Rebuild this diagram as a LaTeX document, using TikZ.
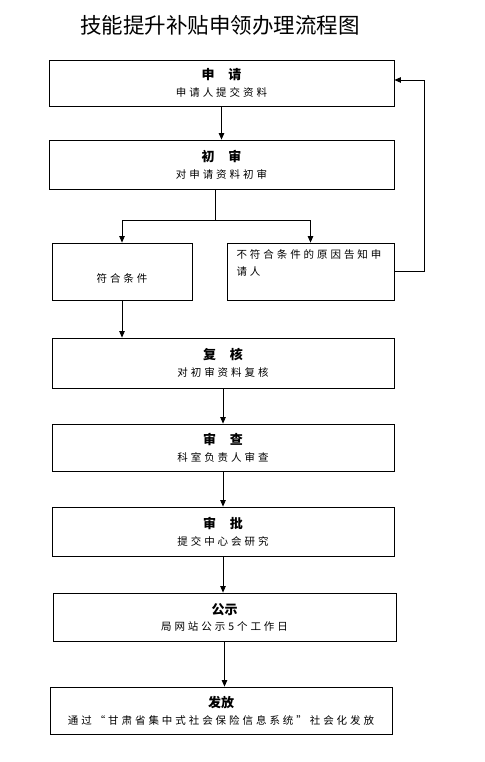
\documentclass[tikz,border=0pt]{standalone}
\usepackage{fontspec}
\setmainfont{Noto Sans CJK SC}
\newfontfamily\cjkwide[LetterSpace=28]{Noto Sans CJK SC}
\usetikzlibrary{arrows.meta}

\newcommand{\hd}[1]{{\rmfamily\bfseries\fontsize{13}{13}\selectfont #1}}

\begin{document}
\begin{tikzpicture}[
        x=1pt, y=-1pt,
        box/.style={rectangle, draw=black, line width=0.8pt, inner sep=0pt, align=center, font=\cjkwide\fontsize{10.5}{12}\selectfont},
        edge/.style={-{Triangle[length=6.5pt,width=5.5pt]}, line width=0.8pt},
        link/.style={line width=0.8pt}
    ]
    \useasboundingbox (0,0) rectangle (484,762);

    % Title
    \node[font=\fontsize{21.5}{24}\selectfont] (title) at (220,25) {技能提升补贴申领办理流程图};

    % Steps
    \node[box, minimum width=345pt, minimum height=46pt] (apply) at (221.5,83) {\hd{申\hspace{14pt}请}\\[5pt]申请人提交资料};
    \node[box, minimum width=345pt, minimum height=49pt] (first) at (221.5,164.5) {\hd{初\hspace{14pt}审}\\[5pt]对申请资料初审};
    \node[box, minimum width=140pt, minimum height=57pt, text height=21pt, text depth=0pt] (ok) at (122,271.5) {符合条件};
    \node[box, minimum width=167pt, minimum height=57pt] (notok) at (310.5,271.5) {\parbox[c][43pt][t]{148pt}{\fontsize{10.5}{17}\selectfont 不符合条件的原因告知申\\请人}};
    \node[box, minimum width=342pt, minimum height=50pt] (review) at (223,363) {\hd{复\hspace{14pt}核}\\[5pt]对初审资料复核};
    \node[box, minimum width=342pt, minimum height=47pt] (check) at (223,447.5) {\hd{审\hspace{14pt}查}\\[5pt]科室负责人审查};
    \node[box, minimum width=342pt, minimum height=49pt] (approve) at (223,531.5) {\hd{审\hspace{14pt}批}\\[5pt]提交中心会研究};
    \node[box, minimum width=343pt, minimum height=48pt] (publicity) at (224.5,617) {\hd{公示}\\[4pt]局网站公示5个工作日};
    \node[box, minimum width=342pt, minimum height=47pt] (payout) at (221,710.5) {\hd{发放}\\[5pt]通过“甘肃省集中式社会保险信息系统”社会化发放};

    % Connectors
    \coordinate (split) at (215,220);
    \coordinate (back) at (424,80);
    \draw[edge] (apply) -- (first);
    \draw[link] (first.south -| split) -- (split);
    \draw[edge] (split) -| (ok.north);
    \draw[edge] (split) -| (notok.north);
    \draw[edge] (notok.east) -| (back) -- (apply.east |- back);
    \draw[edge] (ok) -- (ok |- review.north);
    \draw[edge] (review) -- (check);
    \draw[edge] (check) -- (approve);
    \draw[edge] (approve.south) -- (approve.south |- publicity.north);
    \draw[edge] (publicity.south) -- (publicity.south |- payout.north);

\end{tikzpicture}
\end{document}
